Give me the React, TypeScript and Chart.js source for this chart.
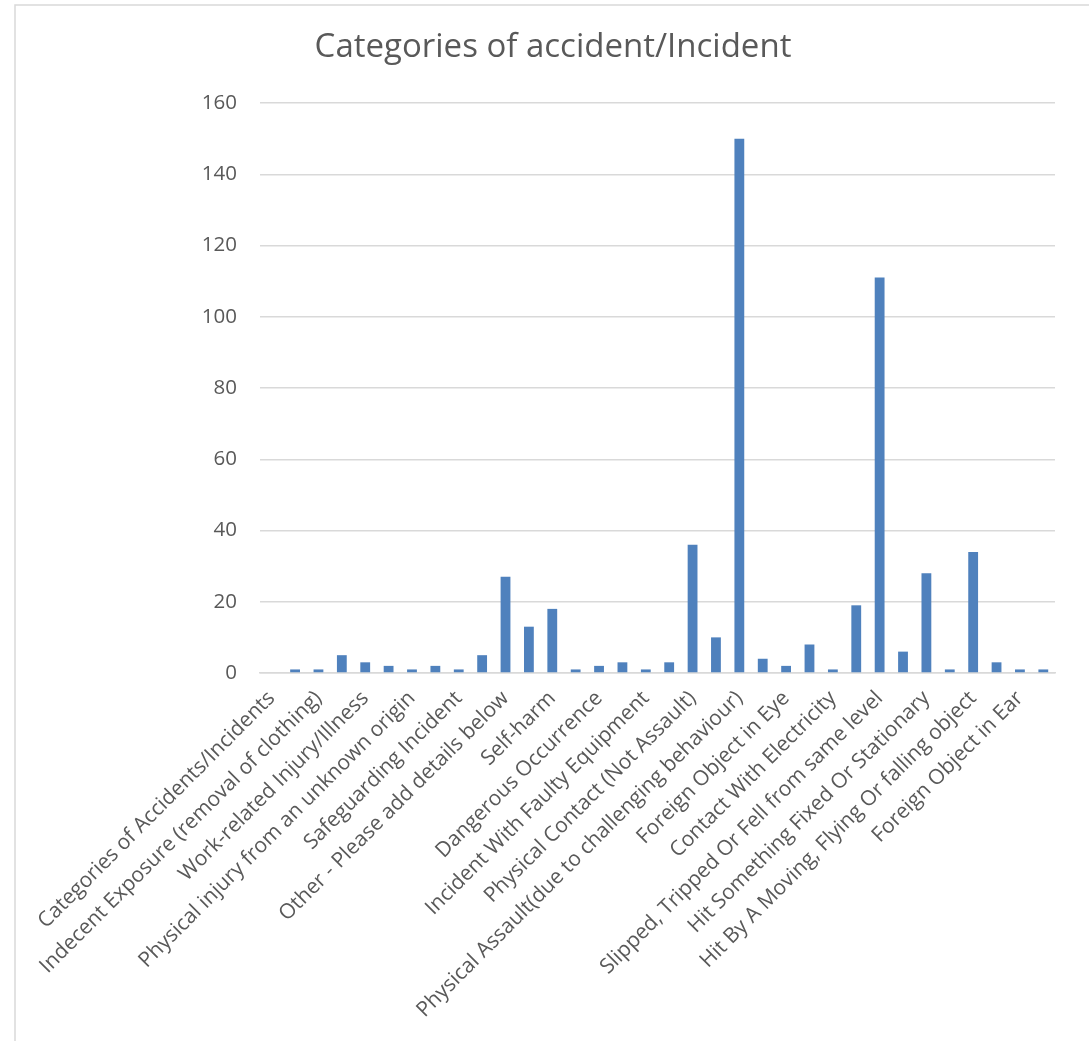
import React, { useEffect, useRef } from "react";
import { Chart, registerables } from "chart.js";

Chart.register(...registerables);

const categories: string[] = [
  "Categories of Accidents/Incidents",
  "Near Miss",
  "Indecent Exposure (removal of clothing)",
  "Verbal Abuse",
  "Work-related Injury/Illness",
  "Needlestick Injury",
  "Physical injury from an unknown origin",
  "Manual Handling",
  "Safeguarding Incident",
  "Burn/Scald",
  "Other - Please add details below",
  "Medication Incident",
  "Self-harm",
  "Animal Bite",
  "Dangerous Occurrence",
  "Allergic Reaction",
  "Incident With Faulty Equipment",
  "Property Damage",
  "Physical Contact (Not Assault)",
  "Physical Assault",
  "Physical Assault(due to challenging behaviour)",
  "Foreign Object in Nose",
  "Foreign Object in Eye",
  "Trapped By Something",
  "Contact With Electricity",
  "Fell from height",
  "Slipped, Tripped Or Fell from same level",
  "Exposure to harmful substance",
  "Hit Something Fixed Or Stationary",
  "Fire",
  "Hit By A Moving, Flying Or falling object",
  "Hit By Moving Vehicle",
  "Foreign Object in Ear",
  "Injured By An Animal",
];

const counts: number[] = [
  0, 1, 1, 5, 3, 2, 1, 2, 1, 5, 27, 13, 18, 1, 2, 3, 1, 3, 36, 10, 150, 4, 2,
  8, 1, 19, 111, 6, 28, 1, 34, 3, 1, 1,
];

const yTicks = { min: 0, max: 160, step: 20 };

const chartTitle = "Categories of accident/Incident";

const frame = {
  id: "frame",
  beforeDraw(chart: any) {
    const ctx = chart.ctx;
    ctx.save();
    ctx.strokeStyle = "#d9d9d9";
    ctx.lineWidth = 1.5;
    ctx.strokeRect(15, 5, chart.width + 20, chart.height + 20);
    ctx.restore();
  },
};

export default function App() {
  const ref = useRef<HTMLCanvasElement | null>(null);

  useEffect(() => {
    document.body.style.margin = "0";
    const canvas = ref.current;
    if (!canvas) return;
    const textColor = "#595959";
    const font = "'Open Sans', 'Liberation Sans', sans-serif";
    const chart = new Chart(canvas, {
      type: "bar",
      data: {
        labels: categories,
        datasets: [
          {
            label: "Count",
            data: counts,
            backgroundColor: "#4f81bd",
            borderWidth: 0,
            barPercentage: 0.42,
            categoryPercentage: 1,
          },
        ],
      },
      options: {
        animation: false,
        responsive: false,
        maintainAspectRatio: false,
        layout: { padding: { left: 51, right: 34, top: 0, bottom: 0 } },
        plugins: {
          legend: { display: false },
          tooltip: { enabled: false },
          title: {
            display: true,
            text: chartTitle,
            color: textColor,
            font: { family: font, size: 33, weight: "normal" },
            padding: { top: 28, bottom: 35.4 },
          },
        },
        scales: {
          x: {
            grid: { display: false },
            border: { display: true, color: "#d9d9d9", width: 1.5 },
            ticks: {
              autoSkip: false,
              minRotation: 45,
              maxRotation: 45,
              color: textColor,
              padding: 5,
              font: { family: font, size: 21 },
              callback: (_v: any, i: number) =>
                i % 2 === 0 ? categories[i] : "",
            },
            afterFit: (scale: any) => {
              scale.height = 1041 - 673;
            },
          },
          y: {
            min: yTicks.min,
            max: yTicks.max,
            border: { display: false },
            grid: { color: "#d9d9d9", lineWidth: 1.5, drawTicks: false },
            ticks: {
              stepSize: yTicks.step,
              color: textColor,
              padding: 23,
              font: { family: font, size: 20.5 },
            },
            afterFit: (scale: any) => {
              scale.width = 209;
            },
          },
        },
      },
      plugins: [frame],
    });
    return () => chart.destroy();
  }, []);

  return (
    <div style={{ width: 1089, height: 1041 }}>
      <canvas ref={ref} width={1089} height={1041} style={{ display: "block" }} />
    </div>
  );
}
